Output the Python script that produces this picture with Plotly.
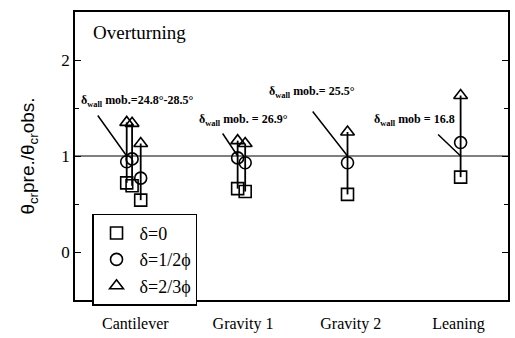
import plotly.graph_objects as go

# Wall types along the x axis
categories = ["Cantilever", "Gravity 1", "Gravity 2", "Leaning"]

# One column of results per case: wall type index, small horizontal offset
column_category = [0, 0, 0, 1, 1, 2, 3]
column_offset = [-0.08, -0.03, 0.05, -0.05, 0.02, -0.03, 0.02]

# Ratio of predicted to observed critical rotation for each wall-friction assumption
ratio_delta_0 = [0.72, 0.69, 0.54, 0.66, 0.63, 0.60, 0.78]
ratio_delta_half = [0.94, 0.97, 0.77, 0.98, 0.93, 0.93, 1.14]
ratio_delta_two_thirds = [1.35, 1.34, 1.13, 1.16, 1.13, 1.25, 1.63]

series_names = ["δ=0", "δ=1/2ϕ", "δ=2/3ϕ"]
series_symbols = ["square-open", "circle-open", "triangle-up-open"]

# Mobilised wall friction notes, one per wall type
mob_labels = [
    "δ<sub>wall</sub> mob.=24.8°-28.5°",
    "δ<sub>wall</sub> mob. = 26.9°",
    "δ<sub>wall</sub> mob.= 25.5°",
    "δ<sub>wall</sub> mob = 16.8",
]
mob_text_pos = [(1.02, 1.57), (2.0, 1.38), (2.64, 1.67), (3.59, 1.38)]
mob_pointer_col = [0, 3, 5, 6]
mob_pointer_tail = [(-30, -42), (-16, -24), (-36, -46), (-24, -23)]

x_cols = [c + 1 + o for c, o in zip(column_category, column_offset)]

serif = "Liberation Serif"
fig = go.Figure()

# Vertical link joining the three estimates of each case
for i, x in enumerate(x_cols):
    ys = [ratio_delta_0[i], ratio_delta_half[i], ratio_delta_two_thirds[i]]
    fig.add_trace(go.Scatter(
        x=[x] * 3, y=ys, mode="lines",
        line=dict(color="black", width=1.8),
        showlegend=False, hoverinfo="skip",
    ))

for name, sym, vals in zip(series_names, series_symbols,
                           [ratio_delta_0, ratio_delta_half, ratio_delta_two_thirds]):
    fig.add_trace(go.Scatter(
        x=x_cols, y=vals, mode="markers", name=name,
        marker=dict(symbol=sym, size=12, color="black",
                    line=dict(color="black", width=1.6)),
    ))

# Ratio = 1 reference
fig.add_shape(type="line", xref="paper", yref="y", x0=0, x1=1, y0=1, y1=1,
              line=dict(color="black", width=1))

for label, (tx, ty), col, (ax, ay) in zip(mob_labels, mob_text_pos,
                                          mob_pointer_col, mob_pointer_tail):
    fig.add_annotation(x=tx, y=ty, text="<b>" + label + "</b>", showarrow=False,
                       font=dict(family=serif, size=12, color="black"))
    fig.add_annotation(x=x_cols[col], y=1, ax=ax, ay=ay, text="",
                       showarrow=True, arrowhead=0, arrowwidth=1.5,
                       arrowcolor="black")

fig.add_annotation(xref="paper", yref="paper", x=0.038, y=0.93,
                   xanchor="left", yanchor="middle", text="Overturning",
                   showarrow=False, font=dict(family=serif, size=19, color="black"))

fig.update_xaxes(
    range=[0.44, 4.46], tickvals=[1, 2, 3, 4], ticktext=categories,
    ticks="", showline=True, mirror=True, linecolor="black", linewidth=1.5,
    showgrid=False, zeroline=False, ticklabelstandoff=8,
    tickfont=dict(family=serif, size=16, color="black"),
)
fig.update_yaxes(
    range=[-0.5, 2.5], tickvals=[0, 1, 2], ticks="inside", ticklen=6,
    tickwidth=1.2, tickcolor="black",
    minor=dict(dtick=0.5, ticks="inside", ticklen=4, tickcolor="black"),
    showline=True, mirror="ticks", linecolor="black", linewidth=1.5,
    showgrid=False, zeroline=False,
    tickfont=dict(family=serif, size=17, color="black"),
    title=dict(text="θ<sub>cr</sub>pre./θ<sub>cr</sub>obs.",
               font=dict(family="Liberation Sans", size=19, color="black"),
               standoff=22),
)

fig.update_layout(
    width=515, height=338,
    margin=dict(l=75, r=5, t=12, b=38),
    plot_bgcolor="white", paper_bgcolor="white",
    legend=dict(x=0.04, y=0.30, xanchor="left", yanchor="top",
                bordercolor="black", borderwidth=1.2, bgcolor="white",
                font=dict(family=serif, size=18, color="black"),
                tracegroupgap=0, itemwidth=36),
)

fig.write_html("out.html")
